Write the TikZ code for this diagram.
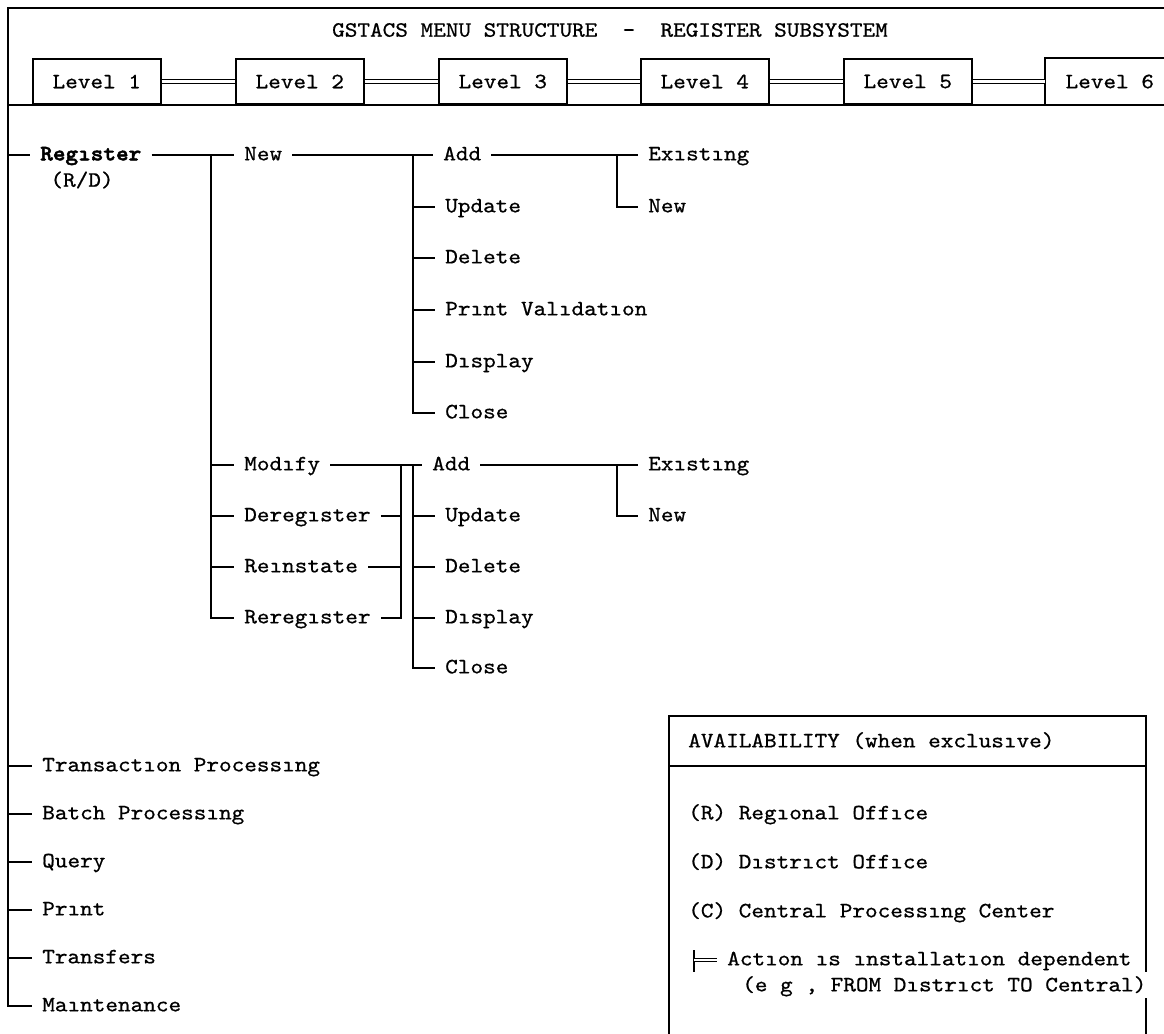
\documentclass[tikz,border=0pt]{standalone}
\usepackage{fontspec}
\newfontfamily\typewriter{lmmono10-regular.otf}[FakeStretch=1.1, FakeBold=0.7]
\newfontfamily\heavytypewriter{lmmonolt10-bold.otf}[FakeStretch=1.1, FakeBold=2.2]
\newcommand\menufont{\typewriter\fontsize{16.4}{19}\selectfont}
\newcommand\boldmenufont{\heavytypewriter\fontsize{16.4}{19}\selectfont}
\begin{document}
\begin{tikzpicture}[x=0.75pt,y=-0.75pt,
  every node/.style={font=\menufont},
  rule/.style={line width=1.2pt},
  heavy/.style={line width=1.8pt},
  dbl/.style={double, double distance=1.6pt, line width=0.8pt},
  item/.style={anchor=west, inner xsep=7.5pt, inner ysep=0pt, xshift=-7.5pt,
               text height=8pt, text depth=0pt},
  levelbox/.style={draw, line width=1.2pt, anchor=south west,
                   minimum width=96pt, minimum height=34pt}]
\useasboundingbox (0,0) rectangle (1164,1033);

% ---- header ----
\coordinate (fl) at (8,8);
\node (title) at (610,30) {GSTACS MENU STRUCTURE~~-~~REGISTER SUBSYSTEM};
\node[levelbox] (l1) at (32,105)   {Level 1};
\node[levelbox] (l2) at (235,105)  {Level 2};
\node[levelbox] (l3) at (438,105)  {Level 3};
\node[levelbox] (l4) at (640,105)  {Level 4};
\node[levelbox] (l5) at (843,105)  {Level 5};
\node[levelbox,draw=none] (l6) at (1045,105) {Level 6};
\draw[rule] ([xshift=20pt]l6.north east) -- (l6.north west) -- (l6.south west);
\draw[dbl] (l1) -- (l2);
\draw[dbl] (l2) -- (l3);
\draw[dbl] (l3) -- (l4);
\draw[dbl] (l4) -- (l5);
\draw[dbl] (l5) -- (l6.west);
\draw[heavy] (fl |- l1.south) -- (1170,105);

% ---- level 1 ----
\node[item,font=\boldmenufont] (reg) at (40,155) {Regıster};
\node (rd) at (82,180) {(R/D)};
\node[item] (tp) at (42,766)  {Transactıon Processıng};
\node[item] (bp) at (42,814)  {Batch Processıng};
\node[item] (qu) at (42,862)  {Query};
\node[item] (pr) at (42,910)  {Prınt};
\node[item] (tr) at (42,958)  {Transfers};
\node[item] (mt) at (42,1006) {Maıntenance};

% ---- level 2 ----
\node[item] (new)    at (244,155) {New};
\node[item] (mod)    at (244,465) {Modıfy};
\node[item] (dereg)  at (244,516) {Deregıster};
\node[item] (reinst) at (244,567) {Reınstate};
\node[item] (rereg)  at (244,618) {Reregıster};

% ---- level 3 ----
\node[item] (add1) at (443,155) {Add};
\node[item] (upd1) at (445,207) {Update};
\node[item] (del1) at (445,258) {Delete};
\node[item] (pv)   at (445,310) {Prınt Valıdatıon};
\node[item] (dsp1) at (445,362) {Dısplay};
\node[item] (cls1) at (445,413) {Close};
\node[item] (add2) at (432,465) {Add};
\node[item] (upd2) at (445,516) {Update};
\node[item] (del2) at (445,567) {Delete};
\node[item] (dsp2) at (445,618) {Dısplay};
\node[item] (cls2) at (445,668) {Close};

% ---- level 4 ----
\node[item] (ex1) at (648,155) {Exıstıng};
\node[item] (nw1) at (648,207) {New};
\node[item] (ex2) at (648,465) {Exıstıng};
\node[item] (nw2) at (648,516) {New};

% ---- bus positions ----
\coordinate (b2)  at (211,0);
\coordinate (b3c) at (401,0);
\coordinate (b3)  at (413,0);
\coordinate (b4)  at (617,0);

% frame and level-1 bus
\draw[rule] (1170,8) -- (fl) |- (mt.west);
\foreach \n in {reg,tp,bp,qu,pr,tr}
  \draw[rule] (fl |- \n.west) -- (\n.west);

% level-2 bus
\draw[rule] (reg.east) -- (new.west);
\draw[rule] (reg.east -| b2) |- (rereg.west);
\foreach \n in {mod,dereg,reinst}
  \draw[rule] (b2 |- \n.west) -- (\n.west);

% level-3 bus under New
\draw[rule] (new.east) -- (add1.west);
\draw[rule] (new.east -| b3) |- (cls1.west);
\foreach \n in {upd1,del1,pv,dsp1}
  \draw[rule] (b3 |- \n.west) -- (\n.west);

% Modify group: collector and distributor
\draw[rule] (mod.east) -- (add2.west);
\draw[rule] (mod.east -| b3c) |- (rereg.east);
\foreach \n in {dereg,reinst}
  \draw[rule] (\n.east) -- (\n.east -| b3c);
\draw[rule] (mod.east -| b3) |- (cls2.west);
\foreach \n in {upd2,del2,dsp2}
  \draw[rule] (b3 |- \n.west) -- (\n.west);

% level-4 buses
\draw[rule] (add1.east) -- (ex1.west);
\draw[rule] (add1.east -| b4) |- (nw1.west);
\draw[rule] (add2.east) -- (ex2.west);
\draw[rule] (add2.east -| b4) |- (nw2.west);

% ---- availability legend ----
\draw[rule] (669,1040) |- (1146,716) -- (1146,972);
\draw[rule] (1146,998) -- (1146,1040);
\draw[rule] (669,766) -- (1146,766);
\node[item] (avail) at (688,742) {AVAILABILITY (when exclusıve)};
\node[item] (lr)  at (688,814) {(R) Regıonal Offıce};
\node[item] (ld)  at (688,863) {(D) Dıstrıct Offıce};
\node[item] (lc)  at (688,912) {(C) Central Processıng Center};
\node[item] (act) at (727,960) {Actıon ıs ınstallatıon dependent};
\node[item] (eg)  at (742,986) {(e g , FROM Dıstrıct TO Central)};
\coordinate (sym) at (694,960);
\draw[rule] (694,950) -- (694,972);
\draw[dbl] (sym) -- (act.west);
\end{tikzpicture}
\end{document}
